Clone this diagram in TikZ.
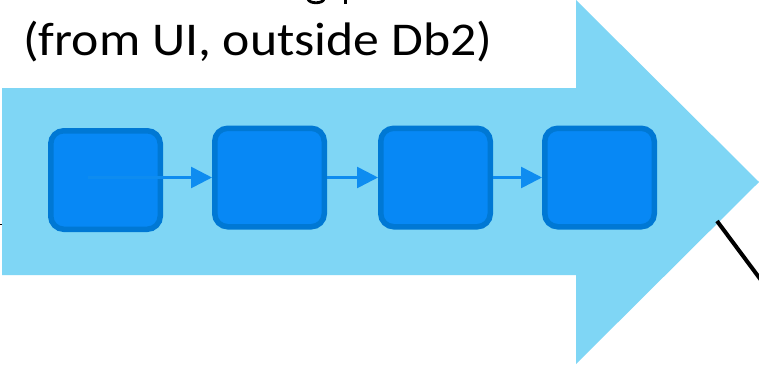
\documentclass[tikz,border=0pt]{standalone}
\usepackage{fontspec}
\usepackage{graphicx}
\setmainfont{Carlito}
\usetikzlibrary{arrows.meta}
\definecolor{arrowlight}{RGB}{127,214,245}
\definecolor{boxfill}{RGB}{7,136,245}
\definecolor{boxedge}{RGB}{0,120,212}
\definecolor{linkcol}{RGB}{14,140,240}
\tikzset{
  stagebox/.style={draw=boxedge, fill=boxfill, line width=5.5pt, rounded corners=13pt,
    minimum width=109.5pt, minimum height=98.5pt, inner sep=0pt},
  link/.style={draw=linkcol, line width=2.6pt, -{Triangle[length=21pt,width=21pt]}},
  caption/.style={anchor=base west, inner sep=0pt, font=\fontsize{47}{56}\selectfont},
  stroke/.style={draw=black, line width=2.8pt},
}
\begin{document}
\begin{tikzpicture}[x=1pt,y=-1pt]
\useasboundingbox (0,0) rectangle (759,365);
\clip (0,0) rectangle (759,365);
\fill[white] (0,0) rectangle (759,365);
% big arrow
\fill[arrowlight] (2,88) -- (576,88) -- (576,0) -- (759,182) -- (576,364) -- (576,275) -- (2,275) -- cycle;
% descender remnants of the line above (cut off at the top edge)
\coordinate (ga) at (308,-1);
\coordinate (gb) at (324,-1);
\draw[stroke] (ga) .. controls (309,4) and (323,4) .. (gb);
\coordinate (pa) at (345.5,-2);
\coordinate (pb) at (345.5,4);
\draw[draw=black, line width=3.4pt] (pa) -- (pb);
% text
\node[caption] (title) at (23,55) {\scalebox{1.1}[1]{(from UI, outside Db2)}};
% boxes
\node[stagebox] (b1) at (105.5,180) {};
\node[stagebox] (b2) at (269.5,177.5) {};
\node[stagebox] (b3) at (435.5,177.5) {};
\node[stagebox] (b4) at (599.5,177.5) {};
% connectors
\draw[link] ([xshift=-18pt]b1.center |- b2.west) -- (b2.west);
\draw[link] (b2.east) -- (b3.west);
\draw[link] (b3.east) -- (b4.west);
% black lines
\coordinate (ls) at (717,221);
\coordinate (le) at (790,319);
\draw[black, line width=4pt] (ls) -- (le);
\coordinate (ts) at (-5,224);
\coordinate (te) at (2,224);
\draw[black, line width=1pt] (ts) -- (te);
\end{tikzpicture}
\end{document}
